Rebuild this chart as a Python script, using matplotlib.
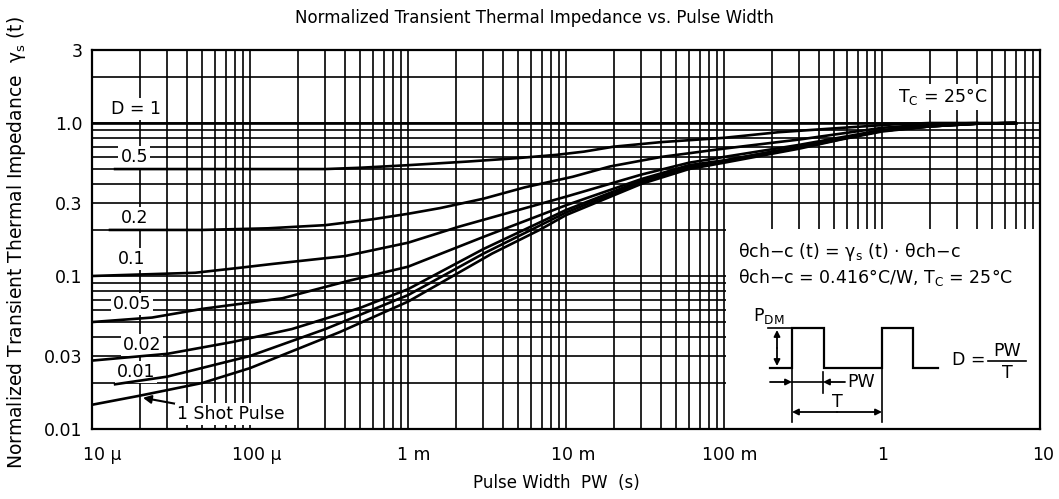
import numpy as np
import matplotlib
matplotlib.use("Agg")
import matplotlib.pyplot as plt
from matplotlib.ticker import LogLocator, NullFormatter, FixedLocator, FixedFormatter
from matplotlib.patches import Rectangle, FancyArrowPatch
from matplotlib.lines import Line2D
import matplotlib.transforms as mtrans

plt.rcParams['font.family'] = ['DejaVu Sans']

# ---------------- data ----------------
pw_1shot = [1e-5, 2e-5, 5e-5, 1e-4, 3.7e-4, 1e-3, 3.4e-3, 6.8e-3, 1e-2, 3e-2, 6e-2, 1e-1, 3e-1, 0.55, 1, 2, 4, 7]
z_1shot = [0.0144, 0.0165, 0.020, 0.025, 0.043, 0.068, 0.14, 0.20, 0.25, 0.40, 0.50, 0.55, 0.68, 0.78, 0.88, 0.95, 0.99, 1.0]

pw_d001 = [1.4e-5, 3e-5, 1e-4, 3e-4, 1e-3, 3e-3, 1e-2, 3e-2, 6e-2, 1e-1, 3e-1, 1, 2, 4, 7]
z_d001 = [0.0196, 0.022, 0.030, 0.045, 0.075, 0.14, 0.26, 0.41, 0.51, 0.56, 0.69, 0.89, 0.95, 0.99, 1.0]

pw_d002 = [1e-5, 3e-5, 7.7e-5, 1.84e-4, 5e-4, 1e-3, 3e-3, 1e-2, 3e-2, 6e-2, 1e-1, 3e-1, 1, 2, 4, 7]
z_d002 = [0.028, 0.031, 0.037, 0.045, 0.062, 0.082, 0.15, 0.27, 0.42, 0.52, 0.565, 0.70, 0.89, 0.95, 0.99, 1.0]

pw_d005 = [1e-5, 2.4e-5, 5e-5, 1.6e-4, 4.2e-4, 1e-3, 3e-3, 1e-2, 3e-2, 6e-2, 1e-1, 3e-1, 1, 2, 4, 7]
z_d005 = [0.050, 0.0535, 0.061, 0.0715, 0.093, 0.115, 0.18, 0.29, 0.43, 0.53, 0.57, 0.70, 0.89, 0.95, 0.99, 1.0]

pw_d01 = [1e-5, 4.5e-5, 8.5e-5, 1.4e-4, 4e-4, 1e-3, 2.1e-3, 5e-3, 1e-2, 3e-2, 6e-2, 1e-1, 3e-1, 1, 2, 4, 7]
z_d01 = [0.100, 0.105, 0.113, 0.120, 0.135, 0.165, 0.21, 0.27, 0.33, 0.46, 0.55, 0.60, 0.72, 0.90, 0.96, 0.99, 1.0]

pw_d02 = [1.3e-5, 5e-5, 1.3e-4, 3e-4, 6e-4, 1e-3, 1.6e-3, 3e-3, 5.5e-3, 1.1e-2, 1.9e-2, 4e-2, 1e-1, 3e-1, 1, 2, 4, 7]
z_d02 = [0.200, 0.200, 0.205, 0.215, 0.235, 0.255, 0.278, 0.32, 0.38, 0.445, 0.52, 0.60, 0.68, 0.78, 0.93, 0.98, 1.0, 1.0]

pw_d05 = [1.4e-5, 3e-4, 5e-4, 1e-3, 2.4e-3, 5e-3, 8.8e-3, 1.3e-2, 2e-2, 4e-2, 1e-1, 2.2e-1, 5.6e-1, 1.2, 2, 4]
z_d05 = [0.50, 0.50, 0.51, 0.53, 0.56, 0.59, 0.62, 0.65, 0.70, 0.75, 0.80, 0.87, 0.93, 0.98, 1.0, 1.0]

pw_d1 = [1e-5, 7]
z_d1 = [1.0, 1.0]

x_ticks = [1e-5, 1e-4, 1e-3, 1e-2, 1e-1, 1, 10]
x_ticklabels = ["10 \u03bc", "100 \u03bc", "1 m", "10 m", "100 m", "1", "10"]
y_ticks = [0.01, 0.03, 0.1, 0.3, 1.0, 3]
y_ticklabels = ["0.01", "0.03", "0.1", "0.3", "1.0", "3"]

duty_labels = ["D = 1", "0.5", "0.2", "0.1", "0.05", "0.02", "0.01"]
duty_label_x = [1.9e-5, 1.85e-5, 1.85e-5, 1.77e-5, 1.79e-5, 2.07e-5, 1.9e-5]
duty_label_y = [1.23, 0.60, 0.239, 0.129, 0.0656, 0.0354, 0.0236]

# ---------------- figure ----------------
W, H = 1059, 499
fig = plt.figure(figsize=(W / 100, H / 100), dpi=100)
ax = fig.add_axes([92 / W, (H - 429) / H, 948 / W, 379 / H])
ax.set_xscale('log')
ax.set_yscale('log')
ax.set_xlim(1e-5, 10)
ax.set_ylim(0.01, 3)
ax.set_axisbelow(True)

ax.xaxis.set_major_locator(FixedLocator(x_ticks))
ax.xaxis.set_major_formatter(FixedFormatter(x_ticklabels))
ax.xaxis.set_minor_locator(LogLocator(base=10, subs=np.arange(2, 10), numticks=100))
ax.xaxis.set_minor_formatter(NullFormatter())
ax.yaxis.set_major_locator(FixedLocator(y_ticks))
ax.yaxis.set_major_formatter(FixedFormatter(y_ticklabels))
ax.yaxis.set_minor_locator(LogLocator(base=10, subs=np.arange(1, 10), numticks=100))
ax.yaxis.set_minor_formatter(NullFormatter())

ax.grid(True, which='both', color='black', lw=1.2)
ax.tick_params(which='both', length=0)
ax.tick_params(axis='x', pad=12, labelsize=12.5)
ax.tick_params(axis='y', pad=7, labelsize=12.5)
for s in ax.spines.values():
    s.set_linewidth(1.6)
    s.set_color('black')

# shift x tick labels that carry a unit a little to the right
offs = [10, 7, 6, 7, 6, 1, 3]
for lab, o in zip(ax.get_xticklabels(), offs):
    lab.set_transform(lab.get_transform() + mtrans.ScaledTranslation(o / 100, 0, fig.dpi_scale_trans))

# inset white box (lower right)
ax.add_patch(Rectangle((0.103, 0.01), 10 - 0.103, 0.204 - 0.01, facecolor='white', edgecolor='none', zorder=1))

# curves
for xs, ys in [(pw_1shot, z_1shot), (pw_d001, z_d001), (pw_d002, z_d002), (pw_d005, z_d005),
               (pw_d01, z_d01), (pw_d02, z_d02), (pw_d05, z_d05), (pw_d1, z_d1)]:
    ax.plot(xs, ys, color='black', lw=1.9, zorder=3, solid_joinstyle='miter')

bb = dict(facecolor='white', edgecolor='none', pad=1.5)
for t, xv, yv in zip(duty_labels, duty_label_x, duty_label_y):
    ax.text(xv, yv, t, ha='center', va='center', fontsize=12.5, bbox=bb, zorder=2)

ax.annotate("1 Shot Pulse", xy=(2.1e-5, 0.0160), xytext=(3.45e-5, 0.01254),
            ha='left', va='center', fontsize=12.5, bbox=bb, zorder=2,
            arrowprops=dict(arrowstyle='-|>', color='black', lw=1.5, mutation_scale=12,
                            shrinkA=0, shrinkB=0))

ax.text(2.43, 1.48, r"T$_\mathregular{C}$ = 25°C", ha='center', va='center', fontsize=12.5, bbox=bb, zorder=2)

# ---------------- titles ----------------
fig.text(534 / W, 1 - 18 / H, "Normalized Transient Thermal Impedance vs. Pulse Width",
         ha='center', va='center', fontsize=12)
fig.text(17 / W, 1 - 243 / H, r"Normalized Transient Thermal Impedance  γ$_\mathregular{s}$ (t)",
         ha='center', va='center', rotation=90, fontsize=13.5)
fig.text(556 / W, 1 - 483 / H, "Pulse Width  PW  (s)", ha='center', va='center', fontsize=12)

# ---------------- inset annotations (figure pixel coords) ----------------
def fp(x, y):
    return (x / W, 1 - y / H)

fig.text(*fp(738, 252), "θch−c (t) = γ$_\\mathregular{s}$ (t) · θch−c", ha='left', va='center', fontsize=12.5)
fig.text(*fp(738, 278), "θch−c = 0.416°C/W, T$_\\mathregular{C}$ = 25°C", ha='left', va='center', fontsize=12.5)
fig.text(*fp(753, 316), r"P$_\mathregular{DM}$", ha='left', va='center', fontsize=12.5)

def fline(xs, ys, lw=1.6):
    pts = [fp(a, b) for a, b in zip(xs, ys)]
    fig.add_artist(Line2D([p[0] for p in pts], [p[1] for p in pts], color='black', lw=lw,
                          transform=fig.transFigure, solid_joinstyle='miter'))

def farrow(a, b, style='-|>'):
    fig.add_artist(FancyArrowPatch(fp(*a), fp(*b), arrowstyle=style, mutation_scale=9,
                                   color='black', lw=1.3, transform=fig.transFigure,
                                   shrinkA=0, shrinkB=0))

# waveform
fline([770, 792, 792, 824, 824, 882, 882, 913, 913, 938],
      [368, 368, 328, 328, 368, 368, 328, 328, 368, 368])
# PDM dimension
fline([768, 792], [328, 328], lw=1.2)
farrow((777, 348), (777, 330))
farrow((777, 348), (777, 366))
# PW dimension
fline([792, 792], [368, 422], lw=1.2)
fline([823, 823], [372, 393], lw=1.2)
fline([882, 882], [368, 422], lw=1.2)
farrow((770, 382), (792, 382))
fline([792, 823], [382, 382], lw=1.2)
farrow((845, 382), (823, 382))
fig.text(*fp(847, 382), "PW", ha='left', va='center', fontsize=12.5)
# T dimension
farrow((837, 412), (792, 412))
farrow((837, 412), (882, 412))
fig.text(*fp(837, 411), "T", ha='center', va='bottom', fontsize=12.5)
# D = PW / T
fig.text(*fp(952, 360), "D =", ha='left', va='center', fontsize=12.5)
fig.text(*fp(1007, 351), "PW", ha='center', va='center', fontsize=12.5)
fline([988, 1026], [361, 361], lw=1.2)
fig.text(*fp(1007, 373), "T", ha='center', va='center', fontsize=12.5)

fig.savefig("out.png", dpi=100)
